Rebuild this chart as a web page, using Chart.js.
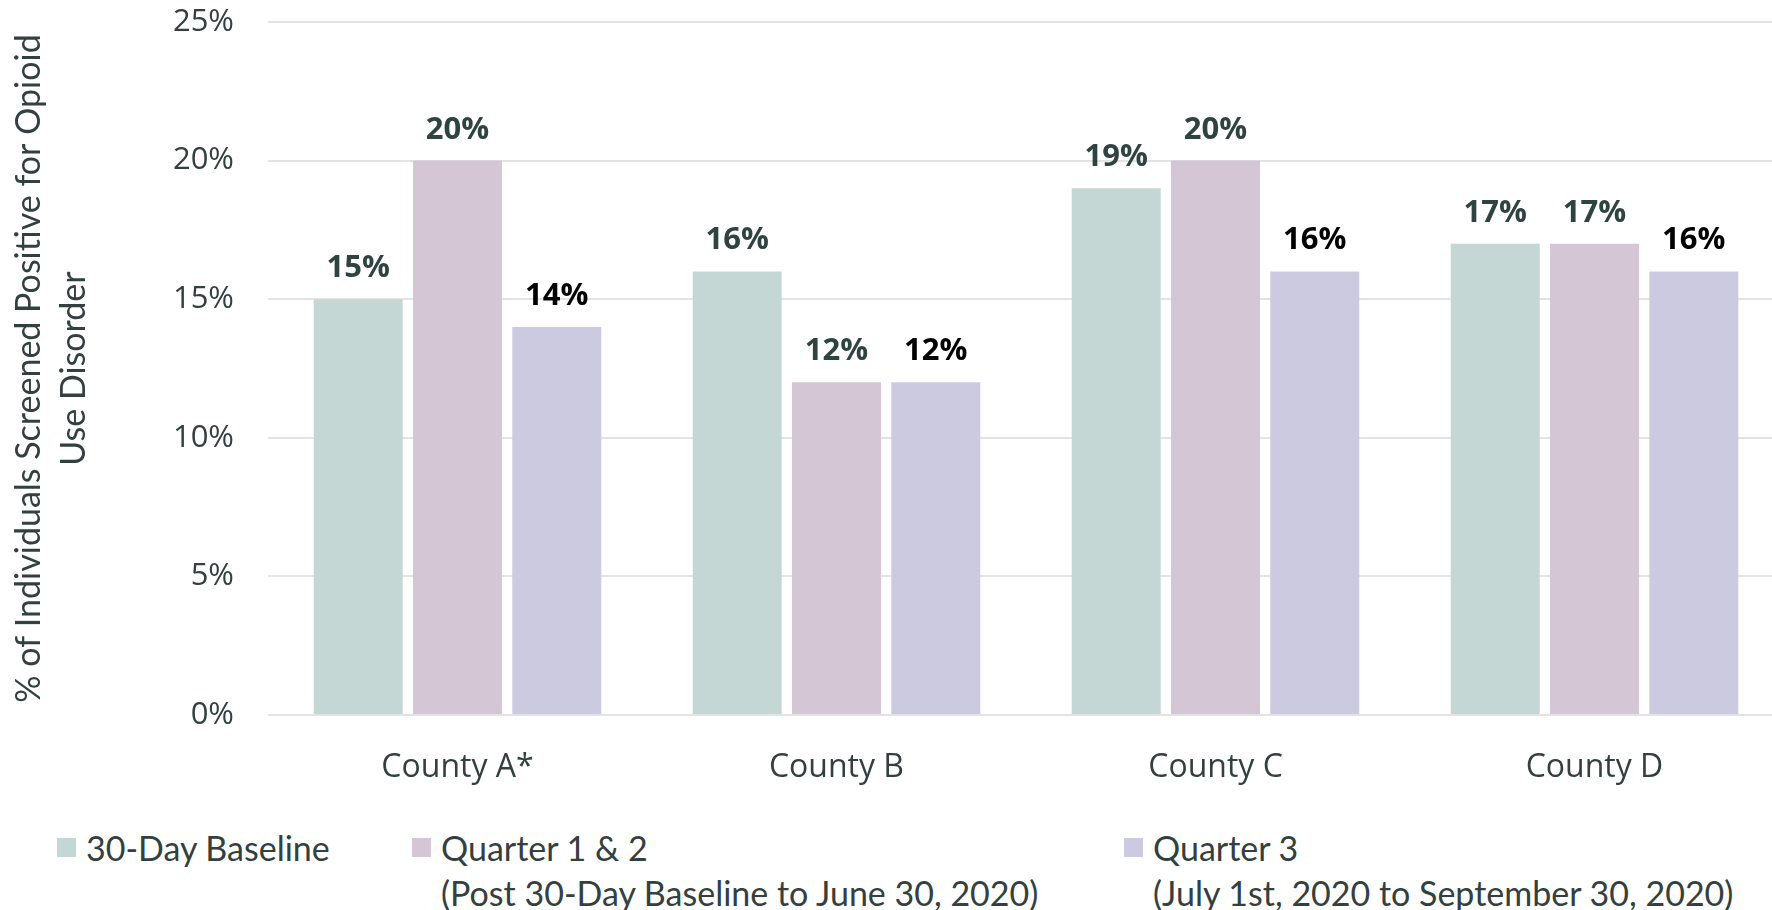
<!DOCTYPE html>
<html>
<head>
<meta charset="utf-8">
<script src="https://cdn.jsdelivr.net/npm/chart.js@4.4.1/dist/chart.umd.min.js"></script>
<style>
  html, body { margin: 0; padding: 0; background: #fff; overflow: hidden; }
  #wrap { position: relative; width: 1784px; height: 815px; }
  #legend { position: absolute; left: 0; top: 825px; width: 1772px; height: 90px;
            font-family: Lato, sans-serif; font-size: 34px; color: #33403f; }
  .item { position: absolute; top: 0; }
  .box { position: absolute; left: 0; top: 13px; width: 19px; height: 19px; }
  .txt { position: absolute; left: 29px; top: 0; white-space: nowrap; line-height: 45px; }
</style>
</head>
<body>
<div id="wrap"><canvas id="chart"></canvas></div>
<div id="legend"></div>
<script>
// Categories and series values (percent)
const counties = ['County A*', 'County B', 'County C', 'County D'];
const baseline = [15, 16, 19, 17];
const quarter12 = [20, 12, 20, 17];
const quarter3 = [14, 12, 16, 16];

// Y axis ticks
const yTicks = [0, 5, 10, 15, 20, 25];

// Legend text
const seriesNames = ['30-Day Baseline', 'Quarter 1 & 2', 'Quarter 3'];
const seriesNotes = ['', '(Post 30-Day Baseline to June 30, 2020)', '(July 1st, 2020 to September 30, 2020)'];

const colors = ['#c4d7d4', '#d4c6d5', '#cccae0'];
const labelColors = ['#2f4441', '#2f4441', '#000000'];
const textColor = '#33403f';
const legendLeft = [57, 412, 1124];

// Draw the value above each bar
const valueLabels = {
  id: 'valueLabels',
  afterDatasetsDraw(chart) {
    const ctx = chart.ctx;
    ctx.save();
    ctx.font = 'bold 31px "Open Sans"';
    ctx.textAlign = 'center';
    ctx.textBaseline = 'alphabetic';
    chart.data.datasets.forEach((ds, i) => {
      ctx.fillStyle = labelColors[i];
      chart.getDatasetMeta(i).data.forEach((bar, j) => {
        ctx.fillText(ds.data[j] + '%', bar.x, bar.y - 22);
      });
    });
    ctx.restore();
  }
};

// Build legend under the chart
function renderLegend() {
  const legend = document.getElementById('legend');
  legend.innerHTML = seriesNames.map((name, i) => `
    <div class="item" style="left:${legendLeft[i]}px">
      <div class="box" style="background:${colors[i]}"></div>
      <div class="txt">${name.replace('&', '&amp;')}${seriesNotes[i] ? '<br>' + seriesNotes[i] : ''}</div>
    </div>
  `).join('');
}

function drawChart() {
  new Chart(document.getElementById('chart'), {
    type: 'bar',
    data: {
      labels: counties,
      datasets: [baseline, quarter12, quarter3].map((values, i) => ({
        label: seriesNames[i],
        data: values,
        backgroundColor: colors[i],
        categoryPercentage: 0.786,
        barPercentage: 0.896
      }))
    },
    options: {
      responsive: true,
      maintainAspectRatio: false,
      animation: false,
      layout: { padding: { top: 22, left: 0, right: 0, bottom: 0 } },
      plugins: {
        legend: { display: false },
        tooltip: { enabled: false }
      },
      scales: {
        x: {
          grid: { display: false },
          border: { display: false },
          ticks: { color: textColor, font: { family: 'Open Sans', size: 32 }, padding: 26 },
          afterFit: (scale) => { scale.height = 100; }
        },
        y: {
          min: yTicks[0],
          max: yTicks[yTicks.length - 1],
          afterBuildTicks: (scale) => { scale.ticks = yTicks.map((v) => ({ value: v })); },
          // transparent tick marks keep the labels away from the plot
          grid: { color: '#e3e3e3', lineWidth: 2, drawTicks: true, tickLength: 34, tickColor: 'rgba(0,0,0,0)' },
          border: { display: false },
          ticks: {
            color: textColor,
            font: { family: 'Open Sans', size: 31 },
            padding: 0,
            callback: (v) => v + '%'
          },
          title: {
            display: true,
            text: ['% of Individuals Screened Positive for Opioid', 'Use Disorder'],
            color: textColor,
            font: { family: 'Lato', size: 34, lineHeight: 1.32 },
            padding: { top: 7, bottom: 0 }
          },
          afterFit: (scale) => { scale.width = 268; }
        }
      }
    },
    plugins: [valueLabels]
  });
}

renderLegend();
Promise.all([
  document.fonts.load('31px "Open Sans"'),
  document.fonts.load('bold 31px "Open Sans"'),
  document.fonts.load('34px Lato')
]).then(drawChart, drawChart);
</script>
</body>
</html>
